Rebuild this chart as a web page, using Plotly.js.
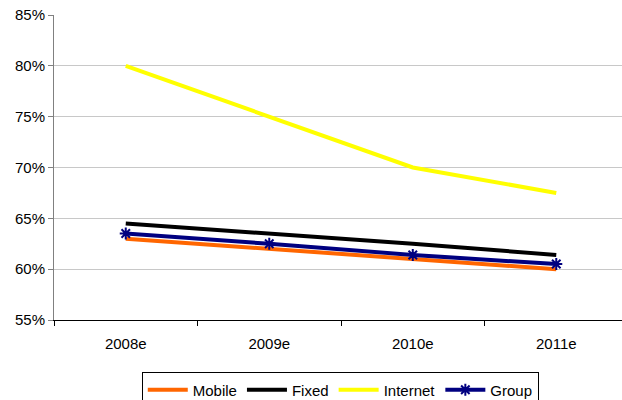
<!DOCTYPE html>
<html>
<head>
<meta charset="utf-8">
<script src="https://cdn.plot.ly/plotly-3.0.1.min.js"></script>
<style>
  html, body { margin: 0; padding: 0; background: #fff; overflow: hidden; }
  #chart { width: 622px; height: 400px; }
</style>
</head>
<body>
<div id="chart"></div>
<script>
// Margin outlook by business line (share, %)
const years = ["2008e", "2009e", "2010e", "2011e"];
const mobile = [63.0, 62.0, 61.0, 60.0];
const fixed = [64.5, 63.5, 62.5, 61.4];
const internet = [80.0, 75.0, 70.0, 67.5];
const group = [63.5, 62.5, 61.4, 60.5];

const asShare = v => v.map(x => x / 100);

const traces = [
  { name: "Mobile", x: years, y: asShare(mobile), mode: "lines",
    line: { color: "#ff6600", width: 4 } },
  { name: "Fixed", x: years, y: asShare(fixed), mode: "lines",
    line: { color: "#000000", width: 4 } },
  { name: "Internet", x: years, y: asShare(internet), mode: "lines",
    line: { color: "#ffff00", width: 4 } },
  { name: "Group", x: years, y: asShare(group), mode: "lines+markers",
    line: { color: "#000080", width: 4 },
    marker: { symbol: "asterisk-open", size: 10, color: "#000080",
              line: { color: "#000080", width: 2 } } }
];

const font = { family: "'Liberation Sans', Arial, sans-serif", color: "#000", size: 15 };

const layout = {
  width: 622, height: 400,
  margin: { l: 54, r: 0, t: 15, b: 80, autoexpand: false },
  paper_bgcolor: "#fff", plot_bgcolor: "#fff",
  font: font,
  showlegend: true,
  legend: {
    orientation: "h", x: 0.504, xanchor: "center", y: -0.172, yanchor: "top",
    bordercolor: "#000", borderwidth: 1, font: { size: 15 },
    itemwidth: 40, tracegroupgap: 0
  },
  xaxis: {
    type: "category", range: [-0.5, 3.458],
    tickson: "boundaries", ticks: "outside", ticklen: 5, tickcolor: "#000",
    ticklabelstandoff: 10,
    showline: true, linecolor: "#000", linewidth: 1,
    showgrid: false, zeroline: false, fixedrange: true
  },
  yaxis: {
    range: [0.55, 0.85], dtick: 0.05, tickformat: ".0%",
    ticks: "outside", ticklen: 5, tickcolor: "#808080",
    showline: true, linecolor: "#808080", linewidth: 1,
    showgrid: true, gridcolor: "#c8c8c8", gridwidth: 1,
    zeroline: false, fixedrange: true
  }
};

Plotly.newPlot("chart", traces, layout, { displayModeBar: false, staticPlot: true });
</script>
</body>
</html>
